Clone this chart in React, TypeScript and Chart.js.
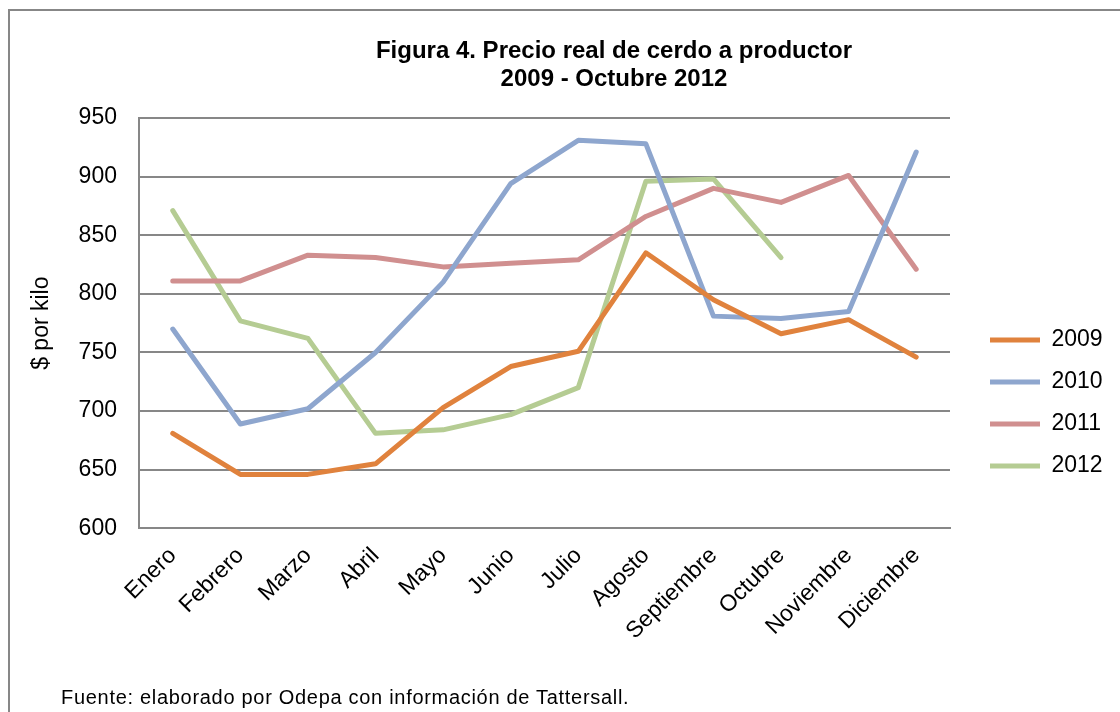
import React, { useEffect, useRef } from "react";
import { Chart, registerables } from "chart.js";

Chart.register(...registerables);

const months = ["Enero", "Febrero", "Marzo", "Abril", "Mayo", "Junio", "Julio", "Agosto", "Septiembre", "Octubre", "Noviembre", "Diciembre"];
const values2009 = [681, 646, 646, 655, 703, 738, 751, 835, 795, 766, 778, 746];
const values2010 = [770, 689, 702, 750, 810, 894, 931, 928, 781, 779, 785, 921];
const values2011 = [811, 811, 833, 831, 823, 826, 829, 866, 890, 878, 901, 821];
const values2012 = [871, 777, 762, 681, 684, 697, 720, 896, 898, 831];
const seriesNames = ["2009", "2010", "2011", "2012"];
const seriesColors = ["#E0823D", "#8EA6CE", "#D08F8F", "#B5CC93"];
const yMin = 600;
const yMax = 950;
const yStep = 50;
const titleLines = ["Figura 4. Precio real de cerdo a productor", "2009 - Octubre 2012"];
const yTitle = "$ por kilo";
const footnote = "Fuente: elaborado por Odepa con información de Tattersall.";

const FONT = '"Liberation Sans", Arial, Helvetica, sans-serif';
const GRID = "#878787";
const CANVAS_W = 1208;
const CANVAS_H = 680;
const LEGEND_BOX_WIDTH = 254;
const LEGEND_INSET_X = 21;
const LEGEND_INSET_Y = 68;

const legendPlacement = {
  id: "legendPlacement",
  beforeInit(chart: any) {
    const legend = chart.legend;
    if (!legend) return;
    const fit = legend.fit;
    legend.fit = function () {
      fit.call(this);
      this.width = LEGEND_BOX_WIDTH;
    };
  },
  afterLayout(chart: any) {
    const legend = chart.legend;
    if (!legend) return;
    legend.left += LEGEND_INSET_X;
    legend.right += LEGEND_INSET_X;
    legend.top += LEGEND_INSET_Y;
    legend.bottom += LEGEND_INSET_Y;
  },
};

export default function App() {
  const ref = useRef<HTMLCanvasElement | null>(null);

  useEffect(() => {
    if (!ref.current) return;
    const all = [values2009, values2010, values2011, values2012];
    const chart = new Chart(ref.current, {
      type: "line",
      data: {
        labels: months,
        datasets: all.map((d, i) => ({
          label: seriesNames[i],
          data: d,
          borderColor: seriesColors[i],
          backgroundColor: seriesColors[i],
          borderWidth: 5,
          borderCapStyle: "round",
          borderJoinStyle: "round",
          pointRadius: 0,
          pointHoverRadius: 0,
          tension: 0,
          fill: false,
        })),
      },
      options: {
        responsive: false,
        animation: false,
        devicePixelRatio: 1,
        layout: { padding: { left: 14, right: 14, top: 0, bottom: 32 } },
        plugins: {
          title: {
            display: true,
            text: titleLines,
            color: "#000",
            font: { family: FONT, size: 24, weight: "bold", lineHeight: 28 / 24 },
            padding: { top: 26, bottom: 25 },
          },
          legend: {
            display: true,
            position: "right",
            labels: {
              usePointStyle: true,
              pointStyle: "line",
              pointStyleWidth: 50,
              padding: 19,
              color: "#000",
              font: { family: FONT, size: 23 },
            },
          },
          tooltip: { enabled: false },
        },
        scales: {
          x: {
            offset: true,
            grid: { display: false, drawTicks: false },
            border: { display: true, color: GRID, width: 2 },
            ticks: {
              autoSkip: false,
              minRotation: 45,
              maxRotation: 45,
              padding: 14,
              color: "#000",
              font: { family: FONT, size: 23 },
            },
          },
          y: {
            min: yMin,
            max: yMax,
            grid: { color: GRID, lineWidth: 2, drawTicks: false },
            border: { display: true, color: GRID, width: 2 },
            ticks: {
              stepSize: yStep,
              padding: 22,
              color: "#000",
              font: { family: FONT, size: 23 },
            },
            title: {
              display: true,
              text: yTitle,
              color: "#000",
              font: { family: FONT, size: 23 },
              padding: { top: 4, bottom: 1 },
            },
          },
        },
      },
      plugins: [legendPlacement],
    } as any);
    return () => chart.destroy();
  }, []);

  return (
    <div style={{ position: "fixed", left: 0, top: 0, width: 1120, height: 712, overflow: "hidden", background: "#fff" }}>
      <div
        style={{
          position: "absolute",
          left: 8,
          top: 9,
          width: CANVAS_W,
          height: 760,
          border: `2px solid ${GRID}`,
        }}
      >
        <canvas ref={ref} width={CANVAS_W} height={CANVAS_H} style={{ display: "block" }} />
      </div>
      <div
        style={{
          position: "absolute",
          left: 61,
          top: 687,
          fontFamily: FONT,
          fontSize: 20,
          lineHeight: "20px",
          letterSpacing: 0.7,
          whiteSpace: "nowrap",
          color: "#000",
        }}
      >
        {footnote}
      </div>
    </div>
  );
}
